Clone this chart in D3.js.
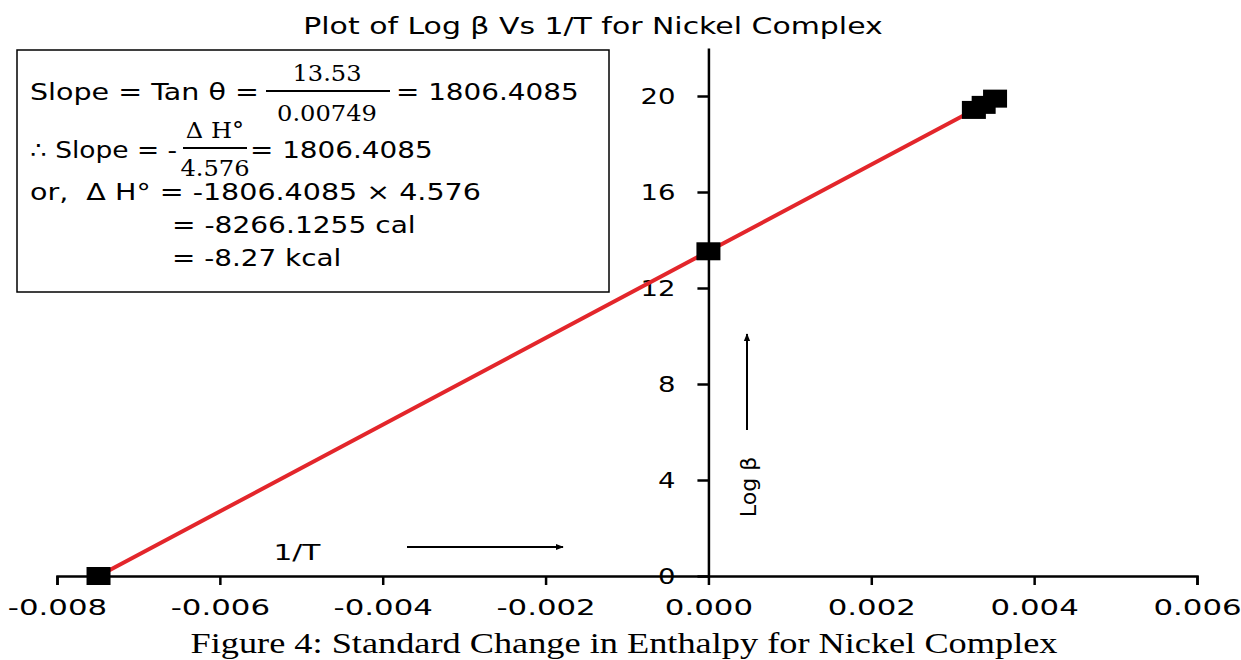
<!DOCTYPE html>
<html>
<head>
<meta charset="utf-8">
<script src="https://cdn.jsdelivr.net/npm/d3@7"></script>
<style>
body { margin: 0; background: #fff; }
svg text { font-family: "DejaVu Sans", sans-serif; fill: #000; }
</style>
</head>
<body>
<div id="chart"></div>
<script>
// data
var invT = [-0.00749, 0, 0.00326, 0.00338, 0.00352];
var logBeta = [0, 13.53, 19.42, 19.63, 19.89];
var xTicks = [-0.008, -0.006, -0.004, -0.002, 0, 0.002, 0.004, 0.006];
var yTicks = [0, 4, 8, 12, 16, 20];

var width = 1241;
var height = 660;

var svg = d3.select('#chart')
	.append('svg')
	.attr('width', width)
	.attr('height', height);

// the original picture is stretched sideways, so widen the glyphs a bit
function widen(sel, k){
	sel.each(function(){
		var w = this.getComputedTextLength();
		d3.select(this)
			.attr('textLength', w * k)
			.attr('lengthAdjust', 'spacingAndGlyphs');
	});
}

var x_scale = d3.scaleLinear().domain([-0.008, 0.006]).range([57, 1197]);
var y_scale = d3.scaleLinear().domain([0, 22]).range([576, 48]);

// title
svg.append('text')
	.attr('x', 593)
	.attr('y', 34)
	.attr('text-anchor', 'middle')
	.style('font-size', '23px')
	.text('Plot of Log β Vs 1/T for Nickel Complex')
	.call(widen, 1.3);

// x axis
var x_axis = d3.axisBottom(x_scale)
	.tickValues(xTicks)
	.tickSize(9)
	.tickPadding(14)
	.tickFormat(function(d){ return d.toFixed(3); });

var gx = svg.append('g')
	.attr('transform', 'translate(0,' + y_scale(0) + ')')
	.call(x_axis);
gx.select('.domain').attr('stroke-width', 2.5);
gx.selectAll('.tick line').attr('stroke-width', 2.5);
gx.selectAll('.tick text')
	.style('font-size', '22px')
	.style('font-family', '"DejaVu Sans", sans-serif')
	.call(widen, 1.4);

// y axis through x = 0
var y_axis = d3.axisLeft(y_scale)
	.tickValues(yTicks)
	.tickSize(11)
	.tickSizeOuter(0)
	.tickPadding(22);

var gy = svg.append('g')
	.attr('transform', 'translate(' + x_scale(0) + ',0)')
	.call(y_axis);
gy.select('.domain').attr('stroke-width', 2.5);
gy.selectAll('.tick line').attr('stroke-width', 2.5);
gy.selectAll('.tick text')
	.style('font-size', '22px')
	.style('font-family', '"DejaVu Sans", sans-serif')
	.call(widen, 1.25);

// red line through points
var pts = invT.map(function(d, i){ return [d, logBeta[i]]; });
var line = d3.line()
	.x(function(d){ return x_scale(d[0]); })
	.y(function(d){ return y_scale(d[1]); });

svg.append('path')
	.datum(pts)
	.attr('d', line)
	.attr('fill', 'none')
	.attr('stroke', '#e3262b')
	.attr('stroke-width', 4);

// square markers (wider than tall, like the picture)
var sqW = 24, sqH = 18;
svg.selectAll('rect.pt')
	.data(pts)
	.enter()
	.append('rect')
	.attr('class', 'pt')
	.attr('x', function(d){ return x_scale(d[0]) - sqW / 2; })
	.attr('y', function(d){ return y_scale(d[1]) - sqH / 2; })
	.attr('width', sqW)
	.attr('height', sqH)
	.attr('fill', '#000');

// arrow marker
svg.append('defs').append('marker')
	.attr('id', 'arr')
	.attr('viewBox', '0 0 10 10')
	.attr('refX', 9).attr('refY', 5)
	.attr('markerWidth', 4).attr('markerHeight', 4)
	.attr('orient', 'auto')
	.append('path')
	.attr('d', 'M0,1 L10,5 L0,9 z')
	.attr('fill', '#000');

// 1/T label and arrow
svg.append('text')
	.attr('x', 297).attr('y', 560)
	.attr('text-anchor', 'middle')
	.style('font-size', '22px')
	.text('1/T')
	.call(widen, 1.35);
svg.append('line')
	.attr('x1', 407).attr('y1', 547).attr('x2', 563).attr('y2', 547)
	.attr('stroke', '#000').attr('stroke-width', 2)
	.attr('marker-end', 'url(#arr)');

// Log β label and arrow
svg.append('text')
	.attr('transform', 'translate(756,487) rotate(-90)')
	.attr('text-anchor', 'middle')
	.style('font-size', '22px')
	.text('Log β');
svg.append('line')
	.attr('x1', 747).attr('y1', 430).attr('x2', 747).attr('y2', 334)
	.attr('stroke', '#000').attr('stroke-width', 2)
	.attr('marker-end', 'url(#arr)');

// equation box
var box = svg.append('g');
box.append('rect')
	.attr('x', 17).attr('y', 50).attr('width', 592).attr('height', 242)
	.attr('fill', '#fff').attr('stroke', '#000').attr('stroke-width', 1.5);

function t(x, y, s, k, anchor, serif){
	box.append('text')
		.attr('x', x).attr('y', y)
		.attr('text-anchor', anchor || 'start')
		.style('font-size', '23px')
		.style('font-family', serif ? '"DejaVu Serif", serif' : '"DejaVu Sans", sans-serif')
		.text(s)
		.call(widen, k);
}
t(30, 100, 'Slope = Tan θ =', 1.24);
t(327, 81, '13.53', 1.05, 'middle', true);
t(327, 121, '0.00749', 1.05, 'middle', true);
box.append('line').attr('x1', 266).attr('x2', 390).attr('y1', 91).attr('y2', 91).attr('stroke', '#000').attr('stroke-width', 2);
t(396, 100, '= 1806.4085', 1.21);

t(30, 158, '∴ Slope = -', 1.15);
t(215, 138, 'Δ H°', 1.05, 'middle', true);
t(215, 176, '4.576', 1.05, 'middle', true);
box.append('line').attr('x1', 183).attr('x2', 247).attr('y1', 148).attr('y2', 148).attr('stroke', '#000').attr('stroke-width', 2);
t(250, 158, '= 1806.4085', 1.21);

t(30, 200, 'or,\u00a0\u00a0Δ H° = -1806.4085 × 4.576', 1.24);
t(172, 233, '= -8266.1255 cal', 1.22);
t(172, 266, '= -8.27 kcal', 1.21);

// caption
svg.append('text')
	.attr('x', 624).attr('y', 653)
	.attr('text-anchor', 'middle')
	.style('font-family', '"Liberation Serif", "Times New Roman", serif')
	.style('font-size', '30px')
	.text('Figure 4: Standard Change in Enthalpy for Nickel Complex')
	.call(widen, 1.21);
</script>
</body>
</html>
